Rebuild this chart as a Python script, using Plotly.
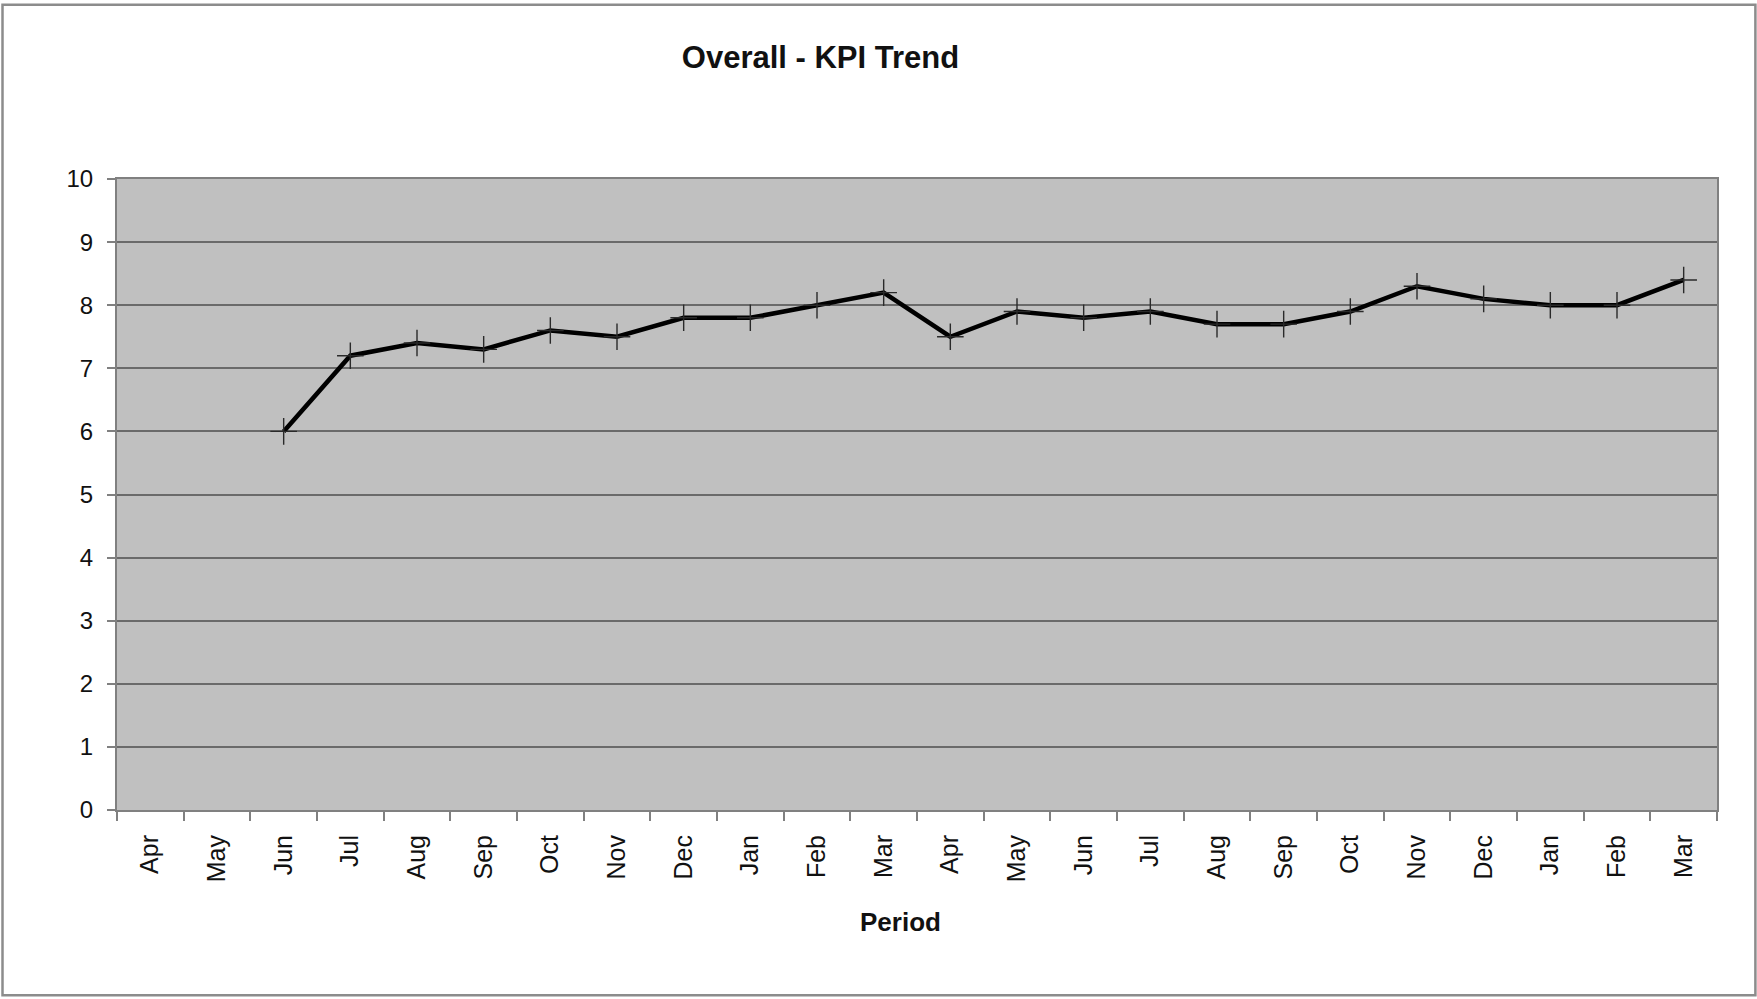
import plotly.graph_objects as go

months = ["Apr", "May", "Jun", "Jul", "Aug", "Sep", "Oct", "Nov", "Dec", "Jan", "Feb", "Mar",
          "Apr", "May", "Jun", "Jul", "Aug", "Sep", "Oct", "Nov", "Dec", "Jan", "Feb", "Mar"]
kpi = [None, None, 6.0, 7.2, 7.4, 7.3, 7.6, 7.5, 7.8, 7.8, 8.0, 8.2,
       7.5, 7.9, 7.8, 7.9, 7.7, 7.7, 7.9, 8.3, 8.1, 8.0, 8.0, 8.4]
y_ticks = list(range(0, 11))

W, H = 1757, 999
L, R, T, B = 116.5, 40.4, 178.5, 189
pw, ph = W - L - R, H - T - B

xs = list(range(len(months)))

fig = go.Figure()
fig.add_trace(go.Scatter(
    x=xs, y=kpi, mode="lines+markers",
    line=dict(color="#000000", width=4.5),
    marker=dict(symbol="cross-thin", size=19, line=dict(color="#2a2a2a", width=1.4)),
    connectgaps=False, showlegend=False,
))

font = "Liberation Sans, Arial, sans-serif"

fig.update_layout(
    width=W, height=H,
    margin=dict(l=L, r=R, t=T, b=B, pad=0),
    paper_bgcolor="white", plot_bgcolor="#C0C0C0",
    font=dict(family=font, size=25, color="#000000"),
    title=dict(text="<b>Overall - KPI Trend</b>", x=820.5 / W, xanchor="center",
               y=1 - 57 / H, yanchor="middle", font=dict(size=31, family=font, color="#111111")),
    xaxis=dict(
        range=[-0.5, len(months) - 0.5], tickvals=xs, ticktext=months, tickangle=-90,
        ticks="", showgrid=False, zeroline=False,
        showline=True, linecolor="#808080", linewidth=2, mirror=True,
        minor=dict(ticks="outside", tick0=-0.5, dtick=1, ticklen=9, tickcolor="#808080",
                   tickwidth=2, showgrid=False),
        tickfont=dict(size=25, family=font, color="#111111"), ticklabelstandoff=13,
    ),
    yaxis=dict(
        range=[0, 10], tickvals=y_ticks, ticks="outside", ticklen=8, tickcolor="#808080", tickwidth=2,
        showgrid=True, gridcolor="#6a6a6a", gridwidth=2, zeroline=False,
        showline=True, linecolor="#808080", linewidth=2, mirror=True,
        tickfont=dict(size=24, family=font, color="#111111"), ticklabelstandoff=9,
    ),
    annotations=[dict(
        text="<b>Period</b>", xref="paper", yref="paper",
        x=(900 - L) / pw, y=(810.5 - 923) / ph, xanchor="center", yanchor="middle",
        showarrow=False, font=dict(size=26, family=font, color="#111111"),
    )],
    shapes=[dict(
        type="rect", xref="paper", yref="paper",
        x0=(2 - L) / pw, x1=(1755 - L) / pw,
        y0=(810.5 - 996) / ph, y1=(810.5 - 4.5) / ph,
        line=dict(color="#8c8c8c", width=2.5), fillcolor="rgba(0,0,0,0)", layer="below",
    )],
)

fig.write_html("out.html", config={"displayModeBar": False},
               post_script="document.body.style.margin='0';document.body.style.overflow='hidden';")
